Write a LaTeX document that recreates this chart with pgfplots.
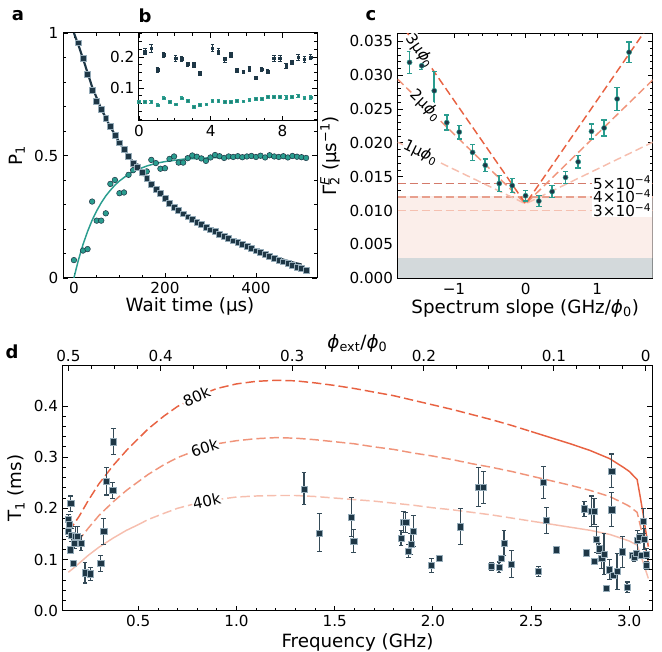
\documentclass[border=0pt]{standalone}
\usepackage{pgfplots}
\pgfplotsset{compat=1.18}
\usepackage{fontspec}
\setmainfont{DejaVu Sans}
\definecolor{navy}{RGB}{30,55,70}
\definecolor{tealc}{RGB}{42,157,143}
\definecolor{edgeb}{RGB}{150,172,185}
\definecolor{r80}{RGB}{232,98,66}
\definecolor{r60}{RGB}{240,148,122}
\definecolor{r40}{RGB}{246,190,174}
\definecolor{h5}{RGB}{212,122,106}
\definecolor{h4}{RGB}{232,160,142}
\definecolor{h3}{RGB}{245,192,176}
\definecolor{pinkbg}{RGB}{251,238,234}
\definecolor{graybg}{RGB}{211,217,219}
\newcommand{\tfont}{\fontsize{11.4}{13}\selectfont}
\newcommand{\lfont}{\fontsize{13.7}{16}\selectfont}
\newcommand{\phiI}{\textit{ϕ}}
\pgfplotsset{
  base/.style={
    scale only axis,
    tick align=inside,
    major tick length=3.8pt,
    minor tick length=2.2pt,
    every tick/.append style={black, line width=0.6pt},
    axis line style={line width=0.75pt},
    tick label style={font=\tfont},
    label style={font=\lfont},
    /pgf/number format/assume math mode=true,
    scaled ticks=false,
  },
  onedec/.style={/pgf/number format/fixed, /pgf/number format/fixed zerofill, /pgf/number format/precision=1},
}
\begin{document}
\begin{tikzpicture}
\useasboundingbox (0,0) rectangle (496.5pt,489pt);
% ---------------- panel a ----------------
\begin{axis}[base, at={(47.25pt,280.5pt)}, anchor=south west, width=190.5pt, height=183.75pt,
  xmin=-24, xmax=534, ymin=0, ymax=1,
  xtick={0,200,400}, minor x tick num=3,
  ytick={0,0.5,1}, yticklabels={0,0.5,1}, minor y tick num=4,
  xlabel={Wait time (μs)}, ylabel={P\textsubscript{1}},
  xlabel style={yshift=4pt}]
\addplot[tealc, line width=1.1pt] coordinates {(0,0) (5,0.038) (10,0.074) (20,0.137) (30,0.19) (40,0.236) (50,0.274) (60,0.307) (70,0.335) (80,0.358) (90,0.379) (100,0.396) (120,0.424) (140,0.443) (160,0.457) (180,0.468) (200,0.475) (240,0.485) (280,0.489) (320,0.492) (400,0.494) (510,0.495)};
\addplot[only marks, mark=*, mark size=2.1pt, mark options={fill=tealc, draw=navy, line width=0.4pt}] coordinates {
(0,0.073) (20,0.112) (30,0.118) (40,0.312) (50,0.234) (60,0.234) (70,0.264) (80,0.384) (90,0.400) (100,0.346) (110,0.349) (120,0.421) (130,0.440) (140,0.455) (150,0.428) (160,0.435) (170,0.482) (180,0.469) (190,0.446) (200,0.448) (210,0.486) (220,0.496) (230,0.471) (240,0.471) (250,0.489) (260,0.500) (270,0.495) (280,0.488) (290,0.478) (300,0.492) (310,0.502) (320,0.497) (330,0.490) (340,0.496) (350,0.494) (360,0.497) (370,0.493) (380,0.496) (390,0.498) (400,0.494) (410,0.499) (420,0.492) (430,0.501) (440,0.496) (450,0.494) (460,0.497) (470,0.492) (480,0.498) (490,0.495) (500,0.493) (510,0.490)};
\addplot[navy, line width=1.6pt] coordinates {(0,1.0) (10,0.95) (20,0.895) (40,0.78) (60,0.69) (80,0.617) (100,0.553) (120,0.497) (140,0.450) (160,0.407) (180,0.364) (200,0.327) (220,0.292) (240,0.263) (260,0.240) (280,0.218) (300,0.199) (320,0.181) (340,0.163) (360,0.146) (380,0.130) (400,0.114) (420,0.100) (440,0.087) (460,0.075) (480,0.064) (500,0.055)};
\addplot[only marks, mark=square*, mark size=2.2pt, mark options={fill=navy, draw=edgeb, line width=0.4pt}] coordinates {
(10,0.960) (20,0.897) (30,0.830) (40,0.767) (50,0.720) (60,0.690) (70,0.652) (80,0.618) (90,0.584) (100,0.552) (110,0.525) (120,0.496) (130,0.470) (140,0.452) (150,0.430) (160,0.408) (170,0.384) (180,0.362) (190,0.345) (200,0.325) (210,0.306) (220,0.290) (230,0.275) (240,0.262) (250,0.250) (260,0.240) (270,0.228) (280,0.218) (290,0.207) (300,0.197) (310,0.190) (320,0.180) (330,0.170) (340,0.161) (350,0.152) (360,0.145) (370,0.137) (380,0.128) (390,0.120) (400,0.111) (410,0.104) (420,0.097) (430,0.090) (440,0.081) (450,0.073) (460,0.066) (470,0.059) (480,0.051) (490,0.045) (500,0.040) (510,0.032)};
\end{axis}
% ---------------- panel b (inset) ----------------
\begin{axis}[base, at={(104.25pt,398.25pt)}, anchor=south west, width=133.5pt, height=66pt,
  xmin=0, xmax=9.93, ymin=-0.006, ymax=0.277,
  xtick={0,4,8}, minor x tick num=3,
  ytick={0.1,0.2}, minor ytick={0,0.025,0.05,0.075,0.125,0.15,0.175,0.225,0.25,0.275},
  axis background/.style={fill=white}]
\addplot[only marks, mark=square*, mark size=1.0pt, mark options={fill=navy, draw=navy},
  error bars/.cd, y dir=both, y explicit, error bar style={navy, line width=0.6pt}, error mark options={rotate=90, navy, mark size=1.3pt, line width=0.6pt}]
  table[x index=0, y index=1, y error index=2] {
0.34 0.217 0.009
0.68 0.228 0.013
1.03 0.158 0.007
1.37 0.206 0.009
2.05 0.196 0.009
2.38 0.194 0.009
2.72 0.177 0.007
3.06 0.174 0.007
3.40 0.147 0.007
4.09 0.228 0.011
4.43 0.217 0.009
4.79 0.192 0.008
5.13 0.206 0.007
5.46 0.156 0.006
5.82 0.152 0.006
6.16 0.162 0.007
6.50 0.133 0.006
6.84 0.160 0.007
7.17 0.153 0.006
7.53 0.196 0.009
7.87 0.196 0.009
8.21 0.171 0.007
8.54 0.182 0.007
8.88 0.199 0.009
9.22 0.192 0.009
9.58 0.199 0.008
};
\addplot[only marks, mark=square*, mark size=1.0pt, mark options={fill=tealc!80!black, draw=tealc},
  error bars/.cd, y dir=both, y explicit, error bar style={tealc, line width=0.6pt}, error mark options={rotate=90, tealc, mark size=1.3pt, line width=0.6pt}]
  table[x index=0, y index=1, y error index=2] {
0.00 0.056 0.005
0.34 0.056 0.005
0.68 0.056 0.005
1.03 0.045 0.004
1.37 0.067 0.005
1.71 0.056 0.005
2.05 0.048 0.004
2.38 0.067 0.005
2.72 0.059 0.005
3.06 0.040 0.004
3.40 0.046 0.004
3.76 0.048 0.004
4.09 0.059 0.005
4.43 0.059 0.005
4.79 0.055 0.004
5.13 0.055 0.004
5.46 0.059 0.005
5.82 0.057 0.004
6.16 0.061 0.005
6.50 0.065 0.005
6.84 0.065 0.005
7.17 0.072 0.005
7.53 0.072 0.005
7.87 0.072 0.005
8.21 0.070 0.005
8.54 0.072 0.005
8.88 0.076 0.005
9.22 0.067 0.005
9.58 0.070 0.005
};
\end{axis}
% ---------------- panel c ----------------
\begin{axis}[base, at={(298.3pt,280.3pt)}, anchor=south west, width=191.25pt, height=183.75pt,
  xmin=-1.785, xmax=1.775, ymin=0, ymax=0.0362,
  xtick={-1,0,1}, xticklabels={−1,0,1}, minor x tick num=4,
  ytick={0,0.005,0.01,0.015,0.02,0.025,0.03,0.035}, minor y tick num=4,
  yticklabel style={/pgf/number format/fixed, /pgf/number format/fixed zerofill, /pgf/number format/precision=3},
  xlabel={Spectrum slope (GHz/\phiI\textsubscript{0})},
  xlabel style={yshift=3pt},
  ylabel={Γ\rlap{\textsuperscript{\textit{E}}}\textsubscript{2} (μs\textsuperscript{−1})}]
\addplot[draw=none, fill=pinkbg] coordinates {(-1.785,0.003) (1.775,0.003) (1.775,0.0122) (-1.785,0.0122)} -- cycle;
\addplot[draw=none, fill=graybg] coordinates {(-1.785,0) (1.775,0) (1.775,0.003) (-1.785,0.003)} -- cycle;
\addplot[h3, line width=1.1pt, dash pattern=on 6pt off 3pt] coordinates {(-1.785,0.010) (1.775,0.010)};
\addplot[h4, line width=1.1pt, dash pattern=on 6pt off 3pt] coordinates {(-1.785,0.012) (1.775,0.012)};
\addplot[h5, line width=1.1pt, dash pattern=on 6pt off 3pt] coordinates {(-1.785,0.014) (1.775,0.014)};
\addplot[r40, line width=1.1pt, dash pattern=on 6pt off 3pt] coordinates {(-1.785,0.0201) (0,0.011) (1.775,0.0201)};
\addplot[r60, line width=1.1pt, dash pattern=on 6pt off 3pt] coordinates {(-1.785,0.0294) (0,0.011) (1.775,0.0293)};
\addplot[r80, line width=1.1pt, dash pattern=on 6pt off 3pt] coordinates {(-1.785,0.0383) (0,0.011) (1.775,0.0382)};
\addplot[only marks, mark=*, mark size=1.9pt, mark options={fill=navy, draw=tealc, line width=0.4pt},
  error bars/.cd, y dir=both, y explicit, error bar style={tealc, line width=1.2pt}, error mark options={rotate=90, tealc, mark size=2pt, line width=1pt}]
  table[x index=0, y index=1, y error index=2] {
-1.62 0.0319 0.0016
-1.45 0.0314 0.0006
-1.275 0.0277 0.0028
-1.10 0.0230 0.0011
-0.926 0.0216 0.0010
-0.74 0.0186 0.0012
-0.563 0.0167 0.0009
-0.368 0.0140 0.0012
-0.187 0.0137 0.0010
0.0 0.0122 0.0008
0.185 0.0114 0.0008
0.371 0.0128 0.0009
0.558 0.0149 0.0009
0.734 0.0172 0.0009
0.920 0.0217 0.0011
1.096 0.0222 0.0012
1.278 0.0265 0.0017
1.445 0.0334 0.0015
};
\node[fill=white, inner sep=0.6pt, rotate=-55, font=\tfont] at (axis cs:-1.475,0.0336) {3μ\phiI\textsubscript{0}};
\node[fill=white, inner sep=0.6pt, rotate=-44, font=\tfont] at (axis cs:-1.40,0.0255) {2μ\phiI\textsubscript{0}};
\node[fill=white, inner sep=0.6pt, rotate=-26, font=\tfont] at (axis cs:-1.465,0.0186) {1μ\phiI\textsubscript{0}};
\node[fill=white, inner sep=0.6pt, anchor=east, font=\tfont] at (axis cs:1.77,0.0141) {5×10\textsuperscript{−4}};
\node[fill=white, inner sep=0.6pt, anchor=east, font=\tfont] at (axis cs:1.77,0.0121) {4×10\textsuperscript{−4}};
\node[fill=white, inner sep=0.6pt, anchor=east, font=\tfont] at (axis cs:1.77,0.0101) {3×10\textsuperscript{−4}};
\end{axis}
% ---------------- panel d ----------------
\begin{axis}[base, at={(47pt,31pt)}, anchor=south west, width=442.2pt, height=183.5pt,
  xmin=0.115, xmax=3.117, ymin=0, ymax=0.478,
  xtick={0.5,1,1.5,2,2.5,3}, minor x tick num=4, xtick pos=left,
  ytick={0,0.1,0.2,0.3,0.4}, minor y tick num=4,
  xticklabel style={onedec}, yticklabel style={onedec},
  xlabel={Frequency (GHz)}, ylabel={T\textsubscript{1} (ms)}, xlabel style={yshift=2pt}]
% 80k
\addplot[r80, line width=1.1pt, dash pattern=on 7pt off 3pt] coordinates {(0.144,0.155) (0.17,0.168) (0.20,0.185) (0.245,0.215) (0.30,0.248) (0.373,0.284) (0.44,0.313) (0.50,0.336) (0.55,0.355) (0.63,0.380) (0.70,0.399) (0.80,0.419) (0.90,0.434) (1.00,0.443) (1.10,0.448) (1.20,0.450) (1.30,0.449) (1.40,0.445) (1.50,0.440) (1.60,0.434) (1.70,0.427) (1.80,0.420) (1.90,0.411) (2.00,0.402) (2.10,0.393) (2.20,0.383) (2.30,0.373) (2.40,0.362) (2.50,0.350)};
\addplot[r80, line width=1.1pt] coordinates {(2.50,0.350) (2.60,0.338) (2.70,0.326) (2.80,0.313) (2.90,0.297) (2.97,0.280) (3.00,0.272) (3.04,0.256) (3.055,0.224) (3.07,0.190) (3.08,0.165) (3.097,0.125)};
% 60k
\addplot[r60, line width=1.1pt, dash pattern=on 7pt off 3pt] coordinates {(0.144,0.116) (0.17,0.126) (0.20,0.139) (0.245,0.161) (0.30,0.186) (0.373,0.213) (0.44,0.235) (0.50,0.252) (0.55,0.266) (0.63,0.285) (0.70,0.299) (0.80,0.314) (0.90,0.326) (1.00,0.332) (1.10,0.336) (1.20,0.338) (1.30,0.337) (1.40,0.334) (1.50,0.330) (1.60,0.326) (1.70,0.320) (1.80,0.315) (1.90,0.308) (2.00,0.302) (2.10,0.295) (2.20,0.287) (2.30,0.280) (2.40,0.272) (2.50,0.263) (2.60,0.254) (2.70,0.245) (2.80,0.235) (2.90,0.223) (2.97,0.210) (3.00,0.204) (3.04,0.192) (3.055,0.168) (3.07,0.143) (3.08,0.124) (3.097,0.094)};
% 40k
\addplot[r40, line width=1.1pt] coordinates {(0.144,0.075) (0.17,0.083) (0.20,0.093) (0.245,0.108) (0.30,0.124) (0.373,0.142) (0.44,0.157) (0.50,0.168)};
\addplot[r40, line width=1.1pt, dash pattern=on 7pt off 3pt] coordinates {(0.50,0.168) (0.55,0.178) (0.63,0.190) (0.70,0.200) (0.80,0.210) (0.90,0.217) (1.00,0.222) (1.10,0.224) (1.20,0.225) (1.30,0.225) (1.40,0.223) (1.50,0.220) (1.60,0.217) (1.70,0.214) (1.80,0.210) (1.90,0.206) (2.00,0.201) (2.10,0.197) (2.20,0.192) (2.30,0.187) (2.40,0.181) (2.50,0.175)};
\addplot[r40, line width=1.1pt] coordinates {(2.50,0.175) (2.60,0.169) (2.70,0.163) (2.80,0.157) (2.90,0.149) (2.97,0.140) (3.00,0.136) (3.04,0.128) (3.055,0.112) (3.07,0.095) (3.08,0.083) (3.097,0.063)};
\node[fill=white, inner sep=0.6pt, rotate=24, font=\tfont] at (axis cs:0.797,0.418) {80k};
\node[fill=white, inner sep=0.6pt, rotate=18, font=\tfont] at (axis cs:0.838,0.318) {60k};
\node[fill=white, inner sep=0.6pt, rotate=12, font=\tfont] at (axis cs:0.849,0.214) {40k};
\addplot[only marks, mark=square*, mark size=2.3pt, mark options={fill=navy, draw=edgeb, line width=0.4pt},
  error bars/.cd, y dir=both, y explicit, error bar style={navy!90, line width=1pt}, error mark options={rotate=90, navy!90, mark size=1.8pt, line width=0.8pt}]
  table[x index=0, y index=1, y error index=2] {
0.144 0.178 0.010
0.147 0.168 0.010
0.144 0.155 0.010
0.156 0.209 0.015
0.161 0.148 0.012
0.152 0.119 0.006
0.169 0.092 0.006
0.174 0.132 0.010
0.181 0.145 0.020
0.191 0.146 0.018
0.208 0.132 0.014
0.229 0.074 0.020
0.256 0.072 0.013
0.309 0.092 0.015
0.324 0.155 0.025
0.339 0.253 0.027
0.370 0.235 0.016
0.373 0.330 0.025
1.344 0.238 0.031
1.422 0.152 0.037
1.584 0.183 0.038
1.597 0.136 0.022
1.838 0.142 0.015
1.849 0.173 0.020
1.862 0.172 0.020
1.876 0.116 0.013
1.888 0.130 0.020
1.900 0.155 0.030
1.993 0.088 0.013
2.031 0.102 0.004
2.141 0.164 0.035
2.231 0.241 0.038
2.257 0.241 0.031
2.299 0.086 0.008
2.337 0.085 0.010
2.347 0.103 0.005
2.362 0.132 0.025
2.401 0.091 0.027
2.537 0.077 0.010
2.563 0.251 0.031
2.578 0.176 0.025
2.629 0.119 0.007
2.770 0.199 0.015
2.782 0.113 0.005
2.809 0.194 0.030
2.821 0.194 0.025
2.821 0.096 0.006
2.833 0.139 0.025
2.845 0.121 0.010
2.860 0.103 0.020
2.871 0.111 0.040
2.883 0.044 0.004
2.898 0.080 0.020
2.911 0.273 0.033
2.911 0.197 0.033
2.920 0.069 0.005
2.938 0.077 0.035
2.964 0.115 0.030
2.989 0.046 0.010
3.014 0.108 0.005
3.024 0.105 0.008
3.034 0.112 0.006
3.041 0.137 0.020
3.051 0.143 0.008
3.061 0.109 0.005
3.071 0.175 0.025
3.075 0.140 0.020
3.088 0.111 0.010
3.088 0.088 0.008
};
\end{axis}
% top axis of panel d
\begin{axis}[base, at={(47pt,31pt)}, anchor=south west, width=442.2pt, height=183.5pt,
  xmin=0.115, xmax=3.117, ymin=0, ymax=0.478,
  hide y axis, xtick pos=right, xticklabel pos=right,
  xtick={0.144,0.614,1.284,1.954,2.616,3.084}, xticklabels={0.5,0.4,0.3,0.2,0.1,0},
  minor xtick={0.262,0.379,0.497,0.782,0.949,1.117,1.452,1.619,1.787,2.12,2.285,2.45,2.733,2.85,2.967},
  xlabel={\phiI\textsubscript{ext}/\phiI\textsubscript{0}}, xlabel style={yshift=-9pt}]
\end{axis}
% panel letters
\node[font=\fontsize{13.5}{15}\selectfont\bfseries] at (13.5pt,477.5pt) {a};
\node[font=\fontsize{13.5}{15}\selectfont\bfseries] at (108.75pt,477.5pt) {b};
\node[font=\fontsize{13.5}{15}\selectfont\bfseries] at (278.25pt,477.5pt) {c};
\node[font=\fontsize{13.5}{15}\selectfont\bfseries] at (9pt,225pt) {d};
\end{tikzpicture}
\end{document}
